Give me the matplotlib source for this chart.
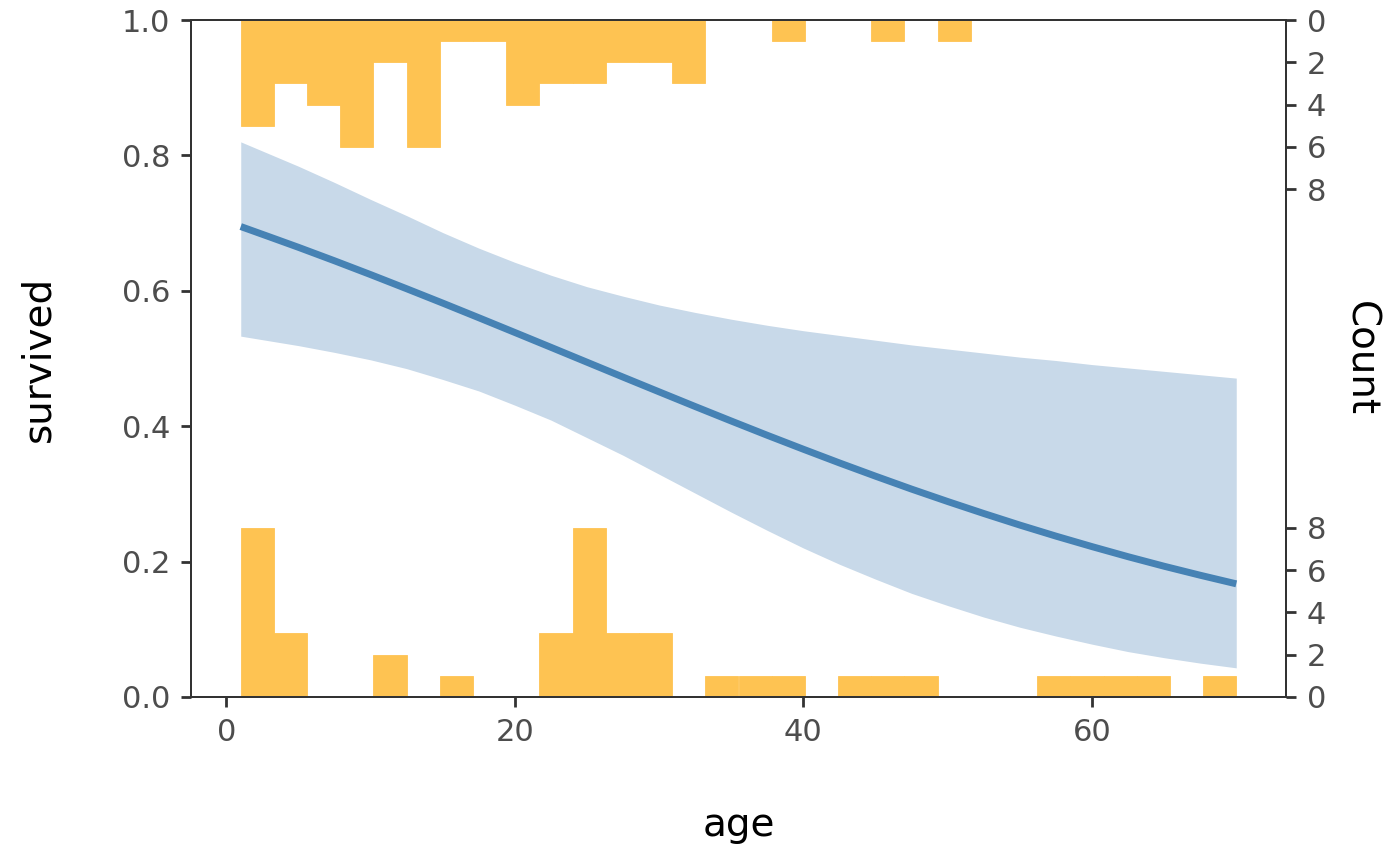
import numpy as np
import matplotlib
matplotlib.use("Agg")
import matplotlib.pyplot as plt

# logistic fit and its 95% band
age = [1, 3, 5, 7.5, 10, 12.5, 15, 17.5, 20, 22.5, 25, 27.5, 30, 32.5, 35,
       37.5, 40, 42.5, 45, 47.5, 50, 52.5, 55, 57.5, 60, 62.5, 65, 67.5, 70]
fit = [0.6949, 0.6796, 0.6642, 0.6443, 0.6239, 0.6030, 0.5818, 0.5602, 0.5384, 0.5165,
       0.4945, 0.4725, 0.4507, 0.4290, 0.4076, 0.3865, 0.3659, 0.3457, 0.3261, 0.3070,
       0.2887, 0.2710, 0.2539, 0.2376, 0.2221, 0.2072, 0.1931, 0.1798, 0.1671]
ci_low = [0.533, 0.526, 0.519, 0.509, 0.498, 0.485, 0.469, 0.452, 0.431, 0.409,
          0.383, 0.357, 0.329, 0.301, 0.273, 0.246, 0.220, 0.196, 0.174, 0.153,
          0.135, 0.118, 0.103, 0.090, 0.078, 0.067, 0.058, 0.050, 0.043]
ci_high = [0.820, 0.802, 0.784, 0.760, 0.735, 0.711, 0.686, 0.663, 0.642, 0.623,
           0.606, 0.592, 0.579, 0.568, 0.558, 0.549, 0.541, 0.534, 0.527, 0.520,
           0.514, 0.508, 0.502, 0.497, 0.491, 0.486, 0.481, 0.476, 0.471]

# marginal histograms, 30 bins from age 1 to 70
age_min, age_max, n_bins = 1, 70, 30
count_survived = [5, 3, 4, 6, 2, 6, 1, 1, 4, 3, 3, 2, 2, 3, 0,
                  0, 1, 0, 0, 1, 0, 1, 0, 0, 0, 0, 0, 0, 0, 0]
count_died = [8, 3, 0, 0, 2, 0, 1, 0, 0, 3, 8, 3, 3, 0, 1,
              1, 1, 0, 1, 1, 1, 0, 0, 0, 1, 1, 1, 1, 0, 1]
count_ticks = [0, 2, 4, 6, 8]
count_scale = 32.0   # 8 counts take a quarter of the axis

edges = np.linspace(age_min, age_max, n_bins + 1)
width = edges[1] - edges[0]
top_h = np.array(count_survived) / count_scale
bot_h = np.array(count_died) / count_scale

plt.rcParams['font.family'] = ['DejaVu Sans']
tick_col = '#4D4D4D'
spine_col = '#333333'

fig = plt.figure(figsize=(14, 8.66), dpi=100)
ax = fig.add_axes([0.1364, 0.1952, 0.9186 - 0.1364, 0.9769 - 0.1952])

bar_col = '#FEC352'
ax.bar(edges[:-1], top_h, width=width, bottom=1 - top_h, align='edge',
       color=bar_col, edgecolor=bar_col, linewidth=0.6, zorder=1)
ax.bar(edges[:-1], bot_h, width=width, align='edge',
       color=bar_col, edgecolor=bar_col, linewidth=0.6, zorder=1)

ax.fill_between(age, ci_low, ci_high, color='#C8D9E9', linewidth=0, zorder=2)
ax.plot(age, fit, color='#4682B4', linewidth=5, solid_capstyle='butt', zorder=3)

ax.set_xlim(age_min - 0.05 * (age_max - age_min), age_max + 0.05 * (age_max - age_min))
ax.set_ylim(0, 1)
ax.set_xticks([0, 20, 40, 60])
ax.set_yticks([0, 0.2, 0.4, 0.6, 0.8, 1.0])
ax.yaxis.set_major_formatter(matplotlib.ticker.FormatStrFormatter('%.1f'))

ax.set_xlabel('age', fontsize=28, labelpad=42.5)
ax.set_ylabel('survived', fontsize=28, labelpad=46)

ax2 = ax.twinx()
ax2.set_ylim(0, 1)
pos = [c / count_scale for c in count_ticks] + [1 - c / count_scale for c in count_ticks]
lab = [str(c) for c in count_ticks] * 2
ax2.set_yticks(pos)
ax2.set_yticklabels(lab)
ax2.set_ylabel('Count', fontsize=28, rotation=270, labelpad=38)

for a in (ax, ax2):
    for s in a.spines.values():
        s.set_color(spine_col)
        s.set_linewidth(1.4)
    a.tick_params(axis='both', length=7, width=2, color=spine_col,
                  labelcolor=tick_col, labelsize=22, pad=8)

fig.savefig('out.png', dpi=100)
